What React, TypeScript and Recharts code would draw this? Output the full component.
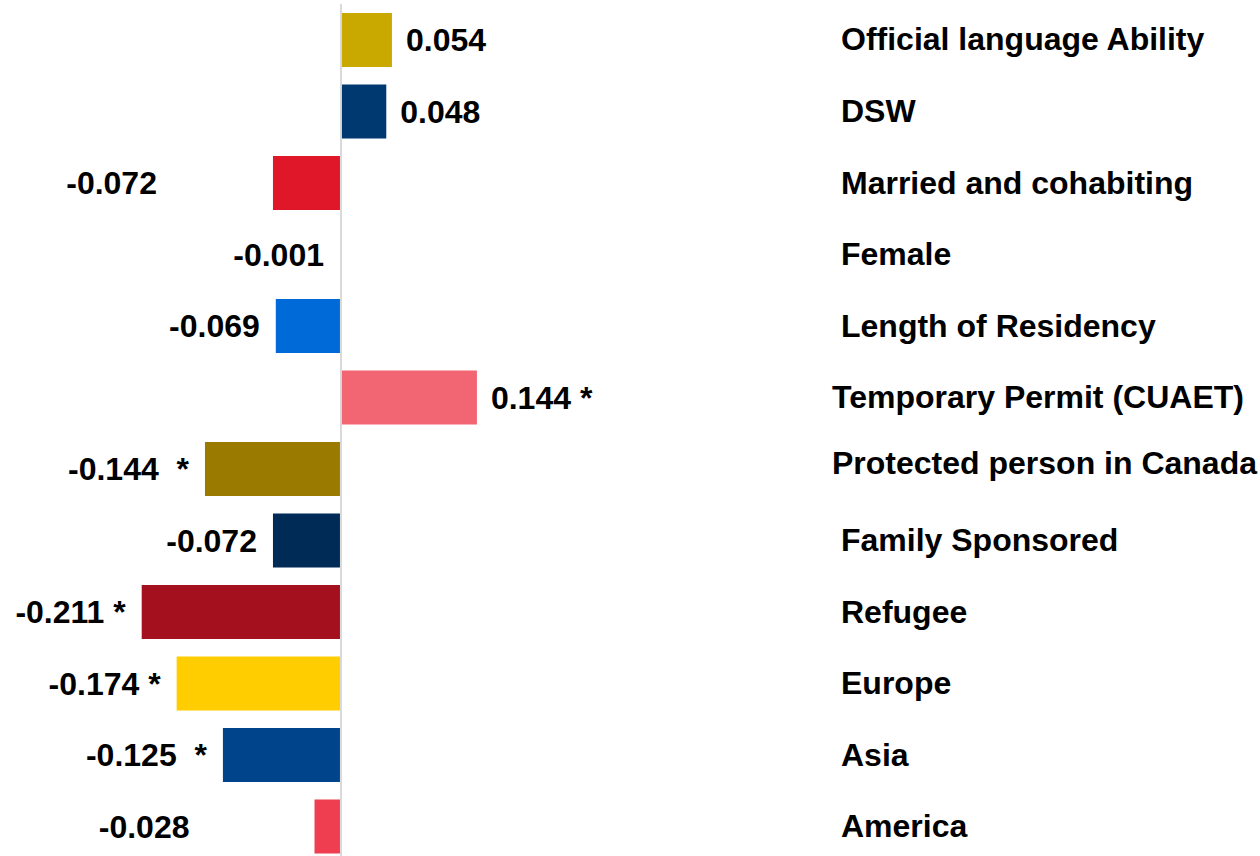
import { BarChart, Bar, XAxis, YAxis, ReferenceLine, LabelList, Cell } from 'recharts';

const categories = [
  'Official language Ability',
  'DSW',
  'Married and cohabiting',
  'Female',
  'Length of Residency',
  'Temporary Permit (CUAET)',
  'Protected person in Canada',
  'Family Sponsored',
  'Refugee',
  'Europe',
  'Asia',
  'America',
];
const coefficients = [0.054, 0.048, -0.072, -0.001, -0.069, 0.144, -0.144, -0.072, -0.211, -0.174, -0.125, -0.028];
// significance marks, spacing as typed on the original slide
const significance = ['', '', '', '', '', ' *', '  *', '', ' *', ' *', '  *', ''];
const barColors = [
  '#C9A800', '#003870', '#DF1728', '#8C8C8C', '#006AD8', '#F26673',
  '#9A7B00', '#002B56', '#A5101F', '#FFCD00', '#00448C', '#EE3E4F',
];

// hand-placed nudges from the slide (layout only)
const valueLabelShift = [0, 0, -100, 0, 0, 0, 0, 0, 0, 0, 0, -109];
const categoryShiftX = [9, 9, 9, 9, 9, 0, 0, 9, 9, 9, 9, 9];
const categoryShiftY = [-1, 0, 0, 0, 0, 0, -6, 0, 0, 0, 0, 0];

const data = categories.map((name, i) => ({ name, value: coefficients[i] }));

const font = "'Liberation Sans', Arial, sans-serif";

const renderValueLabel = (props: any) => {
  const vb = props.viewBox ?? props;
  const i = props.index;
  const v = Number(props.value);
  const left = Math.min(vb.x, vb.x + vb.width);
  const right = Math.max(vb.x, vb.x + vb.width);
  const cy = vb.y + vb.height / 2;
  const text = v.toFixed(3) + significance[i];
  const positive = v >= 0;
  return (
    <text
      x={positive ? right + 14 : left - 16 + valueLabelShift[i]}
      y={cy}
      textAnchor={positive ? 'start' : 'end'}
      dominantBaseline="central"
      fontFamily={font}
      fontWeight={700}
      fontSize={32}
      fill="#000"
      style={{ whiteSpace: 'pre' }}
    >
      {text}
    </text>
  );
};

const renderCategoryTick = (props: any) => {
  const { x, y, payload, index } = props;
  return (
    <text
      x={x + categoryShiftX[index]}
      y={y + categoryShiftY[index]}
      textAnchor="start"
      dominantBaseline="central"
      fontFamily={font}
      fontWeight={700}
      fontSize={32}
      fill="#000"
    >
      {payload.value}
    </text>
  );
};

export default function App() {
  return (
    <div style={{ position: 'absolute', left: 0, top: 0, width: 1260, height: 856, overflow: 'hidden', background: '#fff' }}>
      <BarChart
        width={1260}
        height={862}
        data={data}
        layout="vertical"
        margin={{ top: 4, right: 0, left: 1, bottom: 0 }}
      >
        <XAxis type="number" domain={[-0.36, 0.52]} allowDataOverflow hide />
        <YAxis
          type="category"
          dataKey="name"
          orientation="right"
          width={428}
          axisLine={false}
          tickLine={false}
          tickSize={0}
          tickMargin={0}
          interval={0}
          tick={renderCategoryTick}
        />
        <Bar dataKey="value" barSize={54} isAnimationActive={false}>
          {data.map((entry, index) => (
            <Cell key={`cell-${index}`} fill={barColors[index]} />
          ))}
          <LabelList dataKey="value" content={renderValueLabel} />
        </Bar>
        <ReferenceLine x={0} stroke="#D9D9D9" strokeWidth={2} />
      </BarChart>
    </div>
  );
}
